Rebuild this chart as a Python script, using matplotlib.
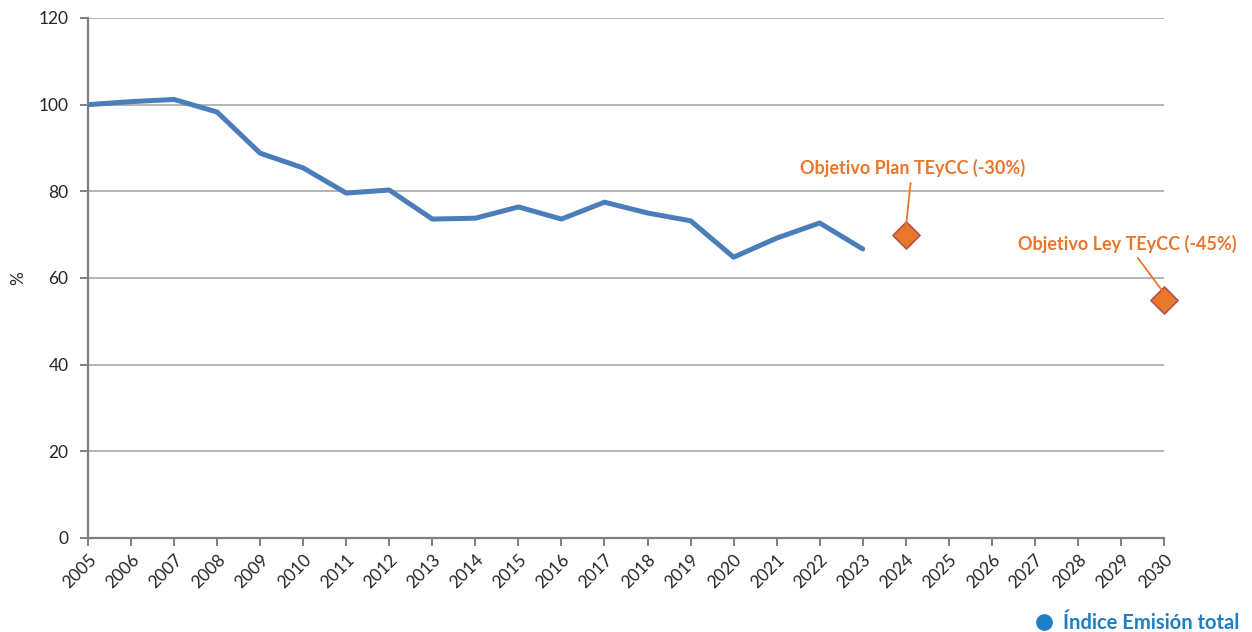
import matplotlib
matplotlib.use('Agg')
import matplotlib.pyplot as plt
from matplotlib.lines import Line2D

plt.rcParams['font.family'] = ['Lato', 'DejaVu Sans']

years = list(range(2005, 2024))
indice = [100.0, 100.7, 101.2, 98.3, 88.8, 85.4, 79.6, 80.3, 73.6, 73.8,
          76.4, 73.6, 77.5, 75.0, 73.2, 64.8, 69.2, 72.7, 66.7]
target_years = [2024, 2030]
target_values = [70, 55]
target_labels = ['Objetivo Plan TEyCC (-30%)', 'Objetivo Ley TEyCC (-45%)']
all_years = list(range(2005, 2031))

line_color = '#4a7ebb'
orange = '#e8762b'
grid_color = '#b4b4b4'
axis_color = '#7f7f7f'

fig = plt.figure(figsize=(12.52, 6.32), dpi=100)
ax = fig.add_axes([88 / 1252, 94 / 632, 1076 / 1252, 520 / 632])

ax.plot(years, indice, color=line_color, lw=3.6, solid_capstyle='round', zorder=3)
ax.scatter(target_years, target_values, marker='D', s=190, color=orange,
           edgecolor='#b5504a', linewidth=1.2, zorder=4, clip_on=False)

# leader lines + labels
offsets = [(0.15, 13.2), (-0.85, 10.8)]
for xv, yv, lab, (dx, dy) in zip(target_years, target_values, target_labels, offsets):
    ax.annotate(lab, xy=(xv, yv + 1.5), xytext=(xv + dx, yv + dy),
                ha='center', va='bottom', fontsize=13, fontweight='bold', color=orange,
                arrowprops=dict(arrowstyle='-', color=orange, lw=1.3, shrinkA=2, shrinkB=2),
                zorder=5, annotation_clip=False)

ax.set_xlim(2005, 2030)
ax.set_ylim(0, 120)
ax.set_yticks(range(0, 121, 20))
ax.set_xticks(all_years)
ax.set_xticklabels([str(y) for y in all_years], rotation=45, ha='right', rotation_mode='anchor')
ax.yaxis.grid(True, color=grid_color, lw=1.4)
ax.set_axisbelow(True)

for side in ['top', 'right']:
    ax.spines[side].set_visible(False)
for side in ['left', 'bottom']:
    ax.spines[side].set_color(axis_color)
    ax.spines[side].set_linewidth(1.6)
ax.tick_params(axis='both', colors=axis_color, width=1.4, length=6, labelcolor='#262626')
ax.tick_params(axis='y', labelsize=12.5, pad=8)
ax.tick_params(axis='x', labelsize=12.5, pad=4)

ax.set_ylabel('%', fontsize=12.5, color='#262626')
ax.yaxis.set_label_coords(-62 / 1076, 0.5)

handle = Line2D([], [], marker='o', color='none', markerfacecolor='#1f7fc4',
                markeredgecolor='#1f7fc4', markersize=11)
fig.legend([handle], ['Índice Emisión total'], loc='lower right', bbox_to_anchor=(1.004, -0.03),
           frameon=False, handletextpad=0.4, prop={'size': 14.5, 'weight': 'bold'},
           labelcolor='#1f7fc4', handlelength=1.0)

fig.savefig('out.png', dpi=100)
